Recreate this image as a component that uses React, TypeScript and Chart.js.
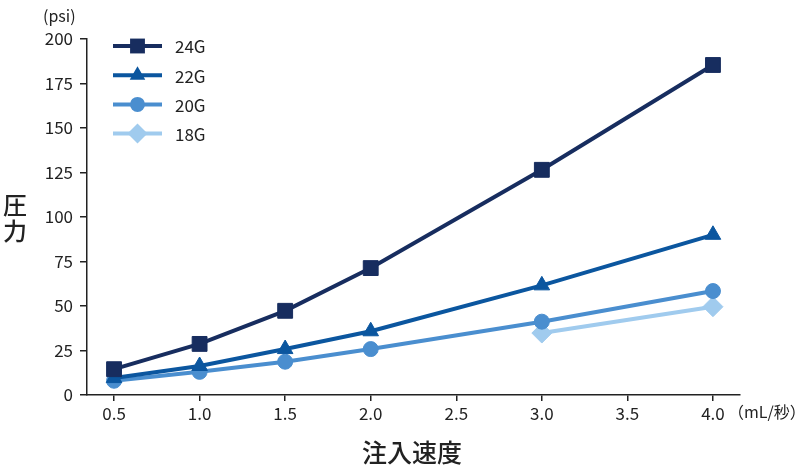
import { useEffect, useRef } from 'react';
import { Chart, registerables } from 'chart.js';

Chart.register(...registerables);

const xValues = [0.5, 1.0, 1.5, 2.0, 3.0, 4.0];
const xTicks = [0.5, 1.0, 1.5, 2.0, 2.5, 3.0, 3.5, 4.0];
const yTicks = [0, 25, 50, 75, 100, 125, 150, 175, 200];

const g24 = [14.5, 28.7, 47.3, 71.3, 126.5, 185.4];
const g22 = [9.5, 16.3, 25.8, 35.8, 61.6, 90];
const g20 = [8, 13, 18.7, 25.8, 41.2, 58.4];
const g18 = [null, null, null, null, 34.8, 49.6];

const seriesNames = ['24G', '22G', '20G', '18G'];
const seriesColors = ['#172d5f', '#0b569f', '#4a8ecf', '#a0cbee'];
const seriesStyles = ['rect', 'triangle', 'circle', 'rectRot'];
const seriesRadius = [10.5, 9, 7.5, 10];

const FONT = '"Noto Sans CJK JP", "Noto Sans", sans-serif';

// marker for the legend, same shapes as chart.js point styles
function drawMarker(ctx: CanvasRenderingContext2D, style: string, r: number, x: number, y: number) {
  ctx.beginPath();
  if (style === 'rect') {
    const s = r / Math.SQRT2;
    ctx.rect(x - s, y - s, 2 * s, 2 * s);
  } else if (style === 'triangle') {
    for (let k = 0; k < 3; k++) {
      const a = -Math.PI / 2 + k * (2 * Math.PI / 3);
      const px = x + Math.cos(a) * r, py = y + Math.sin(a) * r;
      k === 0 ? ctx.moveTo(px, py) : ctx.lineTo(px, py);
    }
    ctx.closePath();
  } else if (style === 'rectRot') {
    ctx.moveTo(x, y - r);
    ctx.lineTo(x + r, y);
    ctx.lineTo(x, y + r);
    ctx.lineTo(x - r, y);
    ctx.closePath();
  } else {
    ctx.arc(x, y, r, 0, Math.PI * 2);
  }
  ctx.fill();
}

// legend (line + marker) and loose texts
const extrasPlugin = {
  id: 'extras',
  afterDraw(chart: any) {
    const { ctx, chartArea } = chart;
    ctx.save();
    chart.data.datasets.forEach((ds: any, i: number) => {
      const y = 46 + i * 29.2;
      const x0 = 113, x1 = 162;
      ctx.strokeStyle = ds.borderColor;
      ctx.lineWidth = 4;
      ctx.beginPath();
      ctx.moveTo(x0, y);
      ctx.lineTo(x1, y);
      ctx.stroke();
      ctx.fillStyle = ds.pointBackgroundColor;
      drawMarker(ctx, ds.pointStyle, ds.pointRadius, (x0 + x1) / 2, y);
      ctx.fillStyle = '#222';
      ctx.font = `17px ${FONT}`;
      ctx.textAlign = 'left';
      ctx.textBaseline = 'middle';
      ctx.fillText(ds.label, 175, y + 1);
    });
    ctx.fillStyle = '#222';
    ctx.font = `16px ${FONT}`;
    ctx.textAlign = 'left';
    ctx.textBaseline = 'middle';
    ctx.fillText('(psi)', 43, 16);
    ctx.fillText('（mL/秒）', chartArea.right - 12, 412);
    ctx.font = `500 24px ${FONT}`;
    ctx.textAlign = 'center';
    ctx.fillText('圧', 15, 205);
    ctx.fillText('力', 15, 231);
    ctx.font = `500 25px ${FONT}`;
    ctx.fillText('注入速度', 412, 452);
    ctx.restore();
  }
};

export default function App() {
  const canvasRef = useRef<HTMLCanvasElement>(null);

  useEffect(() => {
    if (!canvasRef.current) return;
    const series = [g24, g22, g20, g18];
    const chart = new Chart(canvasRef.current, {
      type: 'line',
      data: {
        datasets: series.map((vals, i) => ({
          label: seriesNames[i],
          data: xValues.map((x, j) => ({ x, y: vals[j] })).filter(p => p.y !== null) as any,
          borderColor: seriesColors[i],
          backgroundColor: seriesColors[i],
          pointBackgroundColor: seriesColors[i],
          pointBorderColor: seriesColors[i],
          pointStyle: seriesStyles[i] as any,
          pointRadius: seriesRadius[i],
          pointBorderWidth: 1,
          borderWidth: 4,
          tension: 0,
          order: i
        }))
      },
      options: {
        animation: false,
        responsive: false,
        layout: { padding: { top: 39, right: 60, left: 0, bottom: 0 } },
        plugins: { legend: { display: false }, tooltip: { enabled: false } },
        scales: {
          x: {
            type: 'linear',
            min: 0.342,
            max: 4.158,
            afterBuildTicks: (s: any) => { s.ticks = xTicks.map(v => ({ value: v })); },
            afterFit: (s: any) => { s.height = 76; },
            border: { color: '#222', width: 1.5 },
            grid: { display: true, drawOnChartArea: false, drawTicks: true, tickLength: 6, color: '#222', lineWidth: 1.5 },
            ticks: { color: '#222', font: { family: FONT, size: 17 }, padding: 2, callback: (v: any) => Number(v).toFixed(1) }
          },
          y: {
            min: 0,
            max: 200,
            afterBuildTicks: (s: any) => { s.ticks = yTicks.map(v => ({ value: v })); },
            afterFit: (s: any) => { s.width = 87; },
            border: { color: '#222', width: 1.5 },
            grid: { display: true, drawOnChartArea: false, drawTicks: true, tickLength: 7, color: '#222', lineWidth: 1.5 },
            ticks: { color: '#222', font: { family: FONT, size: 17 }, padding: 7 }
          }
        }
      },
      plugins: [extrasPlugin]
    });
    return () => chart.destroy();
  }, []);

  return (
    <div style={{ position: 'absolute', left: 0, top: 0, width: 800, height: 471, background: '#fff' }}>
      <canvas ref={canvasRef} width={800} height={471} style={{ width: 800, height: 471 }} />
    </div>
  );
}
